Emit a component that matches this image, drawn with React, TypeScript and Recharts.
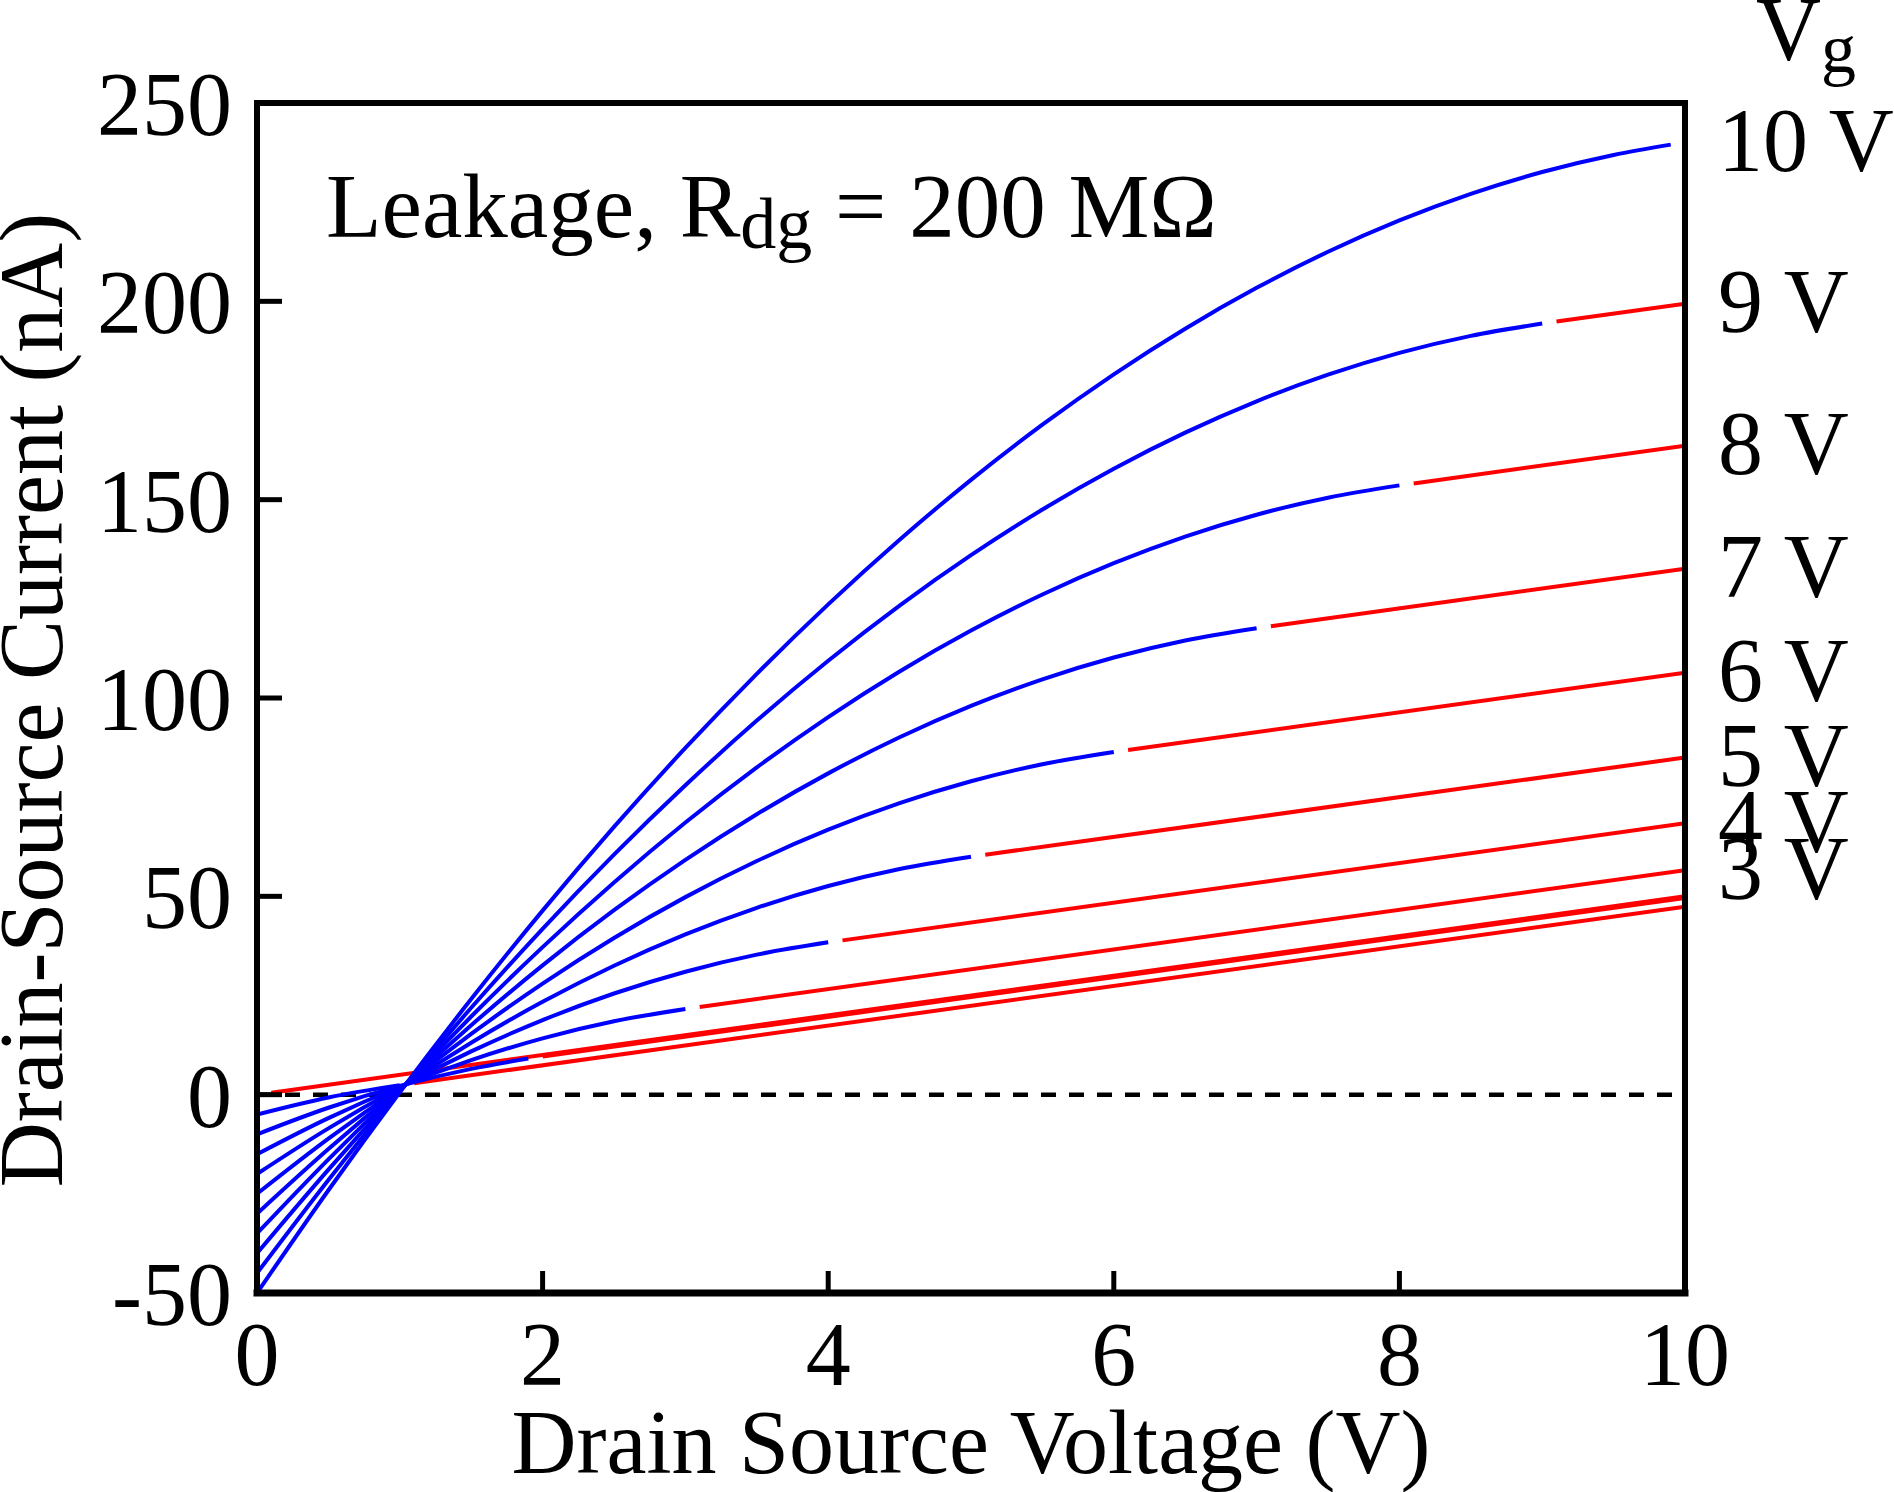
import React from "react";
import {
  ComposedChart,
  Line,
  XAxis,
  YAxis,
  ReferenceLine,
  ReferenceDot,
} from "recharts";

const W = 1894;
const H = 1492;
const FONT = '"Liberation Serif", "Times New Roman", serif';

// axis sizes; margins below are chosen so the plot box is 257..1685 x 103..1293
const LEFT_W = 60;
const RIGHT_W = 30;
const BOTTOM_H = 60;
const TOP_H = 30;
const margin = { top: 103 - TOP_H, right: 209 - RIGHT_W, bottom: 199 - BOTTOM_H, left: 257 - LEFT_W };

const xTicks = [0, 2, 4, 6, 8, 10];
const yTicks = [-50, 0, 50, 100, 150, 200, 250];

// Vds sample points for the linear-region (blue) parts
const vdsSteps = [0, 0.5, 1, 1.5, 2, 2.5, 3, 3.5, 4, 4.5, 5, 5.5, 6, 6.5, 7, 7.5, 8, 8.5, 9, 9.5];
// where each blue curve stops, Vg = 1 .. 10
const blueEndVds = [1, 1.9, 3, 4, 5, 6, 7, 8, 9, 9.9];

// drain current (nA), blue part, one array per gate voltage
const blueVg1 = [-5, -0.7, 2.4];
const blueVg2 = [-10, -3.3, 2.2, 6.5, 9.1];
const blueVg3 = [-15, -5.9, 2, 8.7, 14.2, 18.5, 21.6];
const blueVg4 = [-20, -8.5, 1.8, 10.9, 18.8, 25.5, 31, 35.3, 38.4];
const blueVg5 = [-25, -11.1, 1.6, 13.1, 23.4, 32.5, 40.4, 47.1, 52.6, 56.9, 60];
const blueVg6 = [-30, -13.7, 1.4, 15.3, 28, 39.5, 49.8, 58.9, 66.8, 73.5, 79, 83.3, 86.4];
const blueVg7 = [-35, -16.3, 1.2, 17.5, 32.6, 46.5, 59.2, 70.7, 81, 90.1, 98, 104.7, 110.2, 114.5, 117.6];
const blueVg8 = [-40, -18.9, 1, 19.7, 37.2, 53.5, 68.6, 82.5, 95.2, 106.7, 117, 126.1, 134, 140.7, 146.2, 150.5, 153.6];
const blueVg9 = [-45, -21.5, 0.8, 21.9, 41.8, 60.5, 78, 94.3, 109.4, 123.3, 136, 147.5, 157.8, 166.9, 174.8, 181.5, 187, 191.3, 194.4];
const blueVg10 = [-50, -24.1, 0.6, 24.1, 46.4, 67.5, 87.4, 106.1, 123.6, 139.9, 155, 168.9, 181.6, 193.1, 203.4, 212.5, 220.4, 227.1, 232.6, 236.9, 239.5];
const blueCurves = [blueVg1, blueVg2, blueVg3, blueVg4, blueVg5, blueVg6, blueVg7, blueVg8, blueVg9, blueVg10];

// saturation (red) parts, Vg = 0 .. 9 : straight from start to Vds = 10
const redStartVds = [0.1, 1.1, 2, 3.1, 4.1, 5.1, 6.1, 7.1, 8.1, 9.1];
const redStartI = [0.5, 2.9, 9.6, 22.1, 38.9, 60.5, 86.9, 118.1, 154.1, 194.9];
const redEndI = [50, 47.4, 49.6, 56.6, 68.4, 85, 106.4, 132.6, 163.6, 199.4];

// gate voltage labels on the right, placed at each curve's end current
const labelText = ["3 V", "4 V", "5 V", "6 V", "7 V", "8 V", "9 V", "10 V"];
const labelI = [56.6, 68.4, 85, 106.4, 132.6, 163.6, 199.4, 240];

const blueData = blueCurves.map((vals, k) => {
  const end = blueEndVds[k];
  const xs = vdsSteps.filter((v) => v < end).concat(end);
  return vals.map((i, n) => ({ v: xs[n], i }));
});

const redData = redStartVds.map((v0, k) => [
  { v: v0, i: redStartI[k] },
  { v: 10, i: redEndI[k] },
]);

const textStyle = { fontFamily: FONT, fill: "#000" };
const axisLine = { stroke: "#000", strokeWidth: 6, strokeLinecap: "square" as const };
const tickLine = { stroke: "#000", strokeWidth: 5 };
const tickText = { fontSize: 90, fill: "#000", fontFamily: FONT };

function GateLabel(props: any) {
  const { viewBox, text } = props;
  if (!viewBox) return null;
  return (
    <text x={viewBox.x + 34} y={viewBox.y} dy="0.33em" fontSize={90} style={textStyle}>
      {text}
    </text>
  );
}

export default function App() {
  return (
    <div style={{ position: "absolute", left: 0, top: 0, width: W, height: H, background: "#fff" }}>
      <ComposedChart width={W} height={H} margin={margin}>
        <XAxis
          dataKey="v"
          type="number"
          domain={[0, 10]}
          ticks={xTicks}
          interval={0}
          height={BOTTOM_H}
          tickSize={-22}
          tickMargin={50}
          axisLine={{ ...axisLine, strokeWidth: 7 }}
          tickLine={tickLine}
          tick={tickText}
          allowDataOverflow
        />
        <XAxis
          xAxisId="top"
          orientation="top"
          type="number"
          domain={[0, 10]}
          ticks={xTicks}
          interval={0}
          height={TOP_H}
          tickSize={-22}
          tick={false}
          axisLine={axisLine}
          tickLine={tickLine}
          allowDataOverflow
        />
        <YAxis
          type="number"
          domain={[-50, 250]}
          ticks={yTicks}
          interval={0}
          width={LEFT_W}
          tickSize={-25}
          tickMargin={50}
          axisLine={axisLine}
          tickLine={tickLine}
          tick={tickText}
          allowDataOverflow
        />
        <YAxis
          yAxisId="right"
          orientation="right"
          type="number"
          domain={[-50, 250]}
          ticks={yTicks}
          interval={0}
          width={RIGHT_W}
          tickSize={-25}
          tick={false}
          axisLine={axisLine}
          tickLine={tickLine}
          allowDataOverflow
        />

        <ReferenceLine y={0} stroke="#000" strokeWidth={4.5} strokeDasharray="15 13" />

        {redData.map((d, k) => (
          <Line
            key={`red-${k}`}
            data={d}
            dataKey="i"
            type="linear"
            stroke="#ff0000"
            strokeWidth={4}
            dot={false}
            activeDot={false}
            isAnimationActive={false}
          />
        ))}
        {blueData.map((d, k) => (
          <Line
            key={`blue-${k}`}
            data={d}
            dataKey="i"
            type="monotone"
            stroke="#0000ff"
            strokeWidth={4}
            dot={false}
            activeDot={false}
            isAnimationActive={false}
          />
        ))}

        {labelI.map((y, k) => (
          <ReferenceDot
            key={`lab-${k}`}
            x={10}
            y={y}
            r={1}
            fill="none"
            stroke="none"
            ifOverflow="visible"
            label={(p: any) => <GateLabel {...p} text={labelText[k]} />}
          />
        ))}
      </ComposedChart>

      <svg
        width={W}
        height={H}
        style={{ position: "absolute", left: 0, top: 0, pointerEvents: "none" }}
      >
        <text x={971} y={1473} textAnchor="middle" fontSize={90} style={textStyle}>
          Drain Source Voltage (V)
        </text>
        <text
          transform="translate(62,700) rotate(-90)"
          textAnchor="middle"
          fontSize={90}
          style={textStyle}
        >
          Drain-Source Current (nA)
        </text>
        <text x={326} y={237} fontSize={91} style={textStyle} xmlSpace="preserve">
          Leakage, R
          <tspan fontSize={72} dy={11}>dg</tspan>
          <tspan dy={-11}> = 200 MΩ</tspan>
        </text>
        <text x={1756} y={60} fontSize={90} style={textStyle}>
          V<tspan fontSize={70} dy={12}>g</tspan>
        </text>
      </svg>
    </div>
  );
}
